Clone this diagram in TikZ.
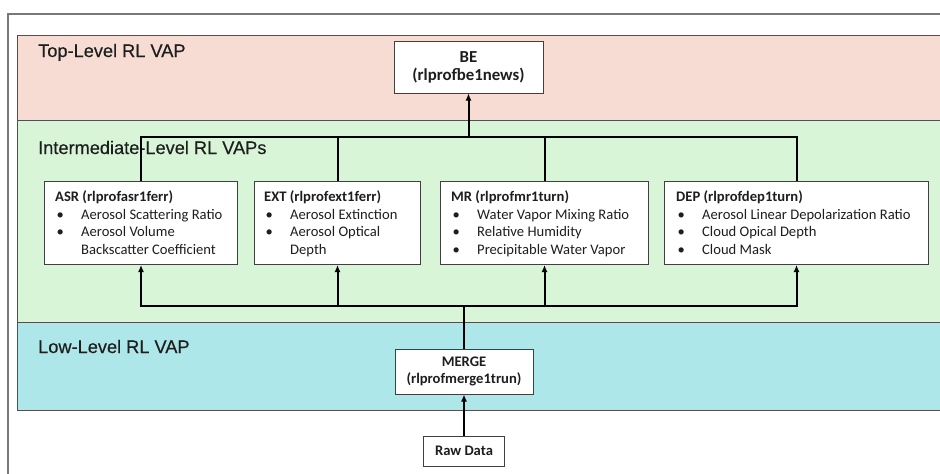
\documentclass[tikz,border=0pt]{standalone}
\usepackage{fontspec}
\usetikzlibrary{arrows.meta}
\newfontfamily\lblfont[FakeBold=0.4]{Liberation Sans}
\newfontfamily\boxfont{Carlito}
\definecolor{bandpink}{RGB}{246,220,210}
\definecolor{bandgreen}{RGB}{216,245,216}
\definecolor{bandcyan}{RGB}{173,231,233}
\definecolor{framegray}{RGB}{120,120,120}
\definecolor{bandline}{RGB}{80,80,80}
\definecolor{txtdark}{RGB}{30,30,30}
\newcommand{\bitem}{\makebox[26pt][l]{\hspace{1.5pt}\textbullet}}
\tikzset{
  band/.style={draw=bandline, line width=0.9pt},
  levellabel/.style={font=\lblfont\fontsize{18.2}{20}\selectfont, text=txtdark, anchor=base west, inner sep=0pt},
  vapbox/.style={draw=black!75, line width=1pt, fill=white, inner sep=0pt, anchor=north west},
  boxtext/.style={anchor=base west, inner sep=0pt, text=txtdark, font=\boxfont\fontsize{14.6}{17.5}\selectfont},
  centerbox/.style={draw=black!75, line width=1pt, fill=white, inner sep=0pt, align=center, text=txtdark},
  conn/.style={line width=2pt, black},
  arr/.style={conn, -{Latex[length=7pt,width=6pt]}}
}
\begin{document}
\begin{tikzpicture}[x=1pt, y=-1pt]
\useasboundingbox (0,0) rectangle (940,474);
\clip (0,0) rectangle (940,474);
\fill[white] (0,0) rectangle (940,474);
% outer frame
\draw[framegray, line width=2pt] (8,480) -- (8,14) -- (950,14);
% bands
\filldraw[band, fill=bandpink] (17,35) rectangle (950,120);
\filldraw[band, fill=bandgreen] (17,120) rectangle (950,322);
\filldraw[band, fill=bandcyan] (17,322) rectangle (950,410);
% level labels
\node[levellabel] (ltop) at (38,57) {Top-Level RL VAP};
\node[levellabel] (lmid) at (38,154) {Intermediate-Level RL VAPs};
\node[levellabel] (llow) at (38,353) {Low-Level RL VAP};
% top box
\node[centerbox, minimum width=149pt, minimum height=52pt,
      font=\boxfont\bfseries\fontsize{16.8}{18}\selectfont] (be) at (468.5,67) {BE\\(rlprofbe1news)};
% intermediate boxes
\node[vapbox, minimum width=193pt, minimum height=83pt] (asr) at (44,181) {};
\node[vapbox, minimum width=166pt, minimum height=83pt] (ext) at (254,181) {};
\node[vapbox, minimum width=208pt, minimum height=83pt] (mr) at (440,181) {};
\node[vapbox, minimum width=264pt, minimum height=83pt] (dep) at (664,181) {};
\node[boxtext] (asrtxt) at ([xshift=11pt,yshift=-20.7pt]asr.north west) {%
\begin{tabular}[t]{@{}l@{}l@{}}
\multicolumn{2}{@{}l@{}}{\bfseries ASR (rlprofasr1ferr)}\\
\bitem & Aerosol Scattering Ratio\\
\bitem & Aerosol Volume\\
 & Backscatter Coefficient
\end{tabular}};
\node[boxtext] (exttxt) at ([xshift=10pt,yshift=-20.7pt]ext.north west) {%
\begin{tabular}[t]{@{}l@{}l@{}}
\multicolumn{2}{@{}l@{}}{\bfseries EXT (rlprofext1ferr)}\\
\bitem & Aerosol Extinction\\
\bitem & Aerosol Optical\\
 & Depth
\end{tabular}};
\node[boxtext] (mrtxt) at ([xshift=11pt,yshift=-20.7pt]mr.north west) {%
\begin{tabular}[t]{@{}l@{}l@{}}
\multicolumn{2}{@{}l@{}}{\bfseries MR (rlprofmr1turn)}\\
\bitem & Water Vapor Mixing Ratio\\
\bitem & Relative Humidity\\
\bitem & Precipitable Water Vapor
\end{tabular}};
\node[boxtext] (deptxt) at ([xshift=12pt,yshift=-20.7pt]dep.north west) {%
\begin{tabular}[t]{@{}l@{}l@{}}
\multicolumn{2}{@{}l@{}}{\bfseries DEP (rlprofdep1turn)}\\
\bitem & Aerosol Linear Depolarization Ratio\\
\bitem & Cloud Opical Depth\\
\bitem & Cloud Mask
\end{tabular}};
% low-level boxes
\node[centerbox, minimum width=138pt, minimum height=45pt,
      font=\boxfont\bfseries\fontsize{14.6}{17.5}\selectfont] (merge) at (464,371.5) {MERGE\\(rlprofmerge1trun)};
\node[centerbox, minimum width=81pt, minimum height=30pt,
      font=\boxfont\bfseries\fontsize{14.6}{17.5}\selectfont] (raw) at (464,451) {Raw Data};
% buses
\coordinate (topbus) at (be.south |- 0,137);
\coordinate (botbus) at (merge.north |- 0,306);
\draw[conn] (asr.north) |- (topbus);
\draw[conn] (ext.north) |- (topbus);
\draw[conn] (mr.north) |- (topbus);
\draw[conn] (dep.north) |- (topbus);
\draw[arr] (topbus) -- (be.south);
\draw[conn] (merge.north) -- (botbus);
\draw[arr] (botbus) -| (asr.south);
\draw[arr] (botbus) -| (ext.south);
\draw[arr] (botbus) -| (mr.south);
\draw[arr] (botbus) -| (dep.south);
\draw[arr] (raw.north) -- (merge.south);
\end{tikzpicture}
\end{document}
